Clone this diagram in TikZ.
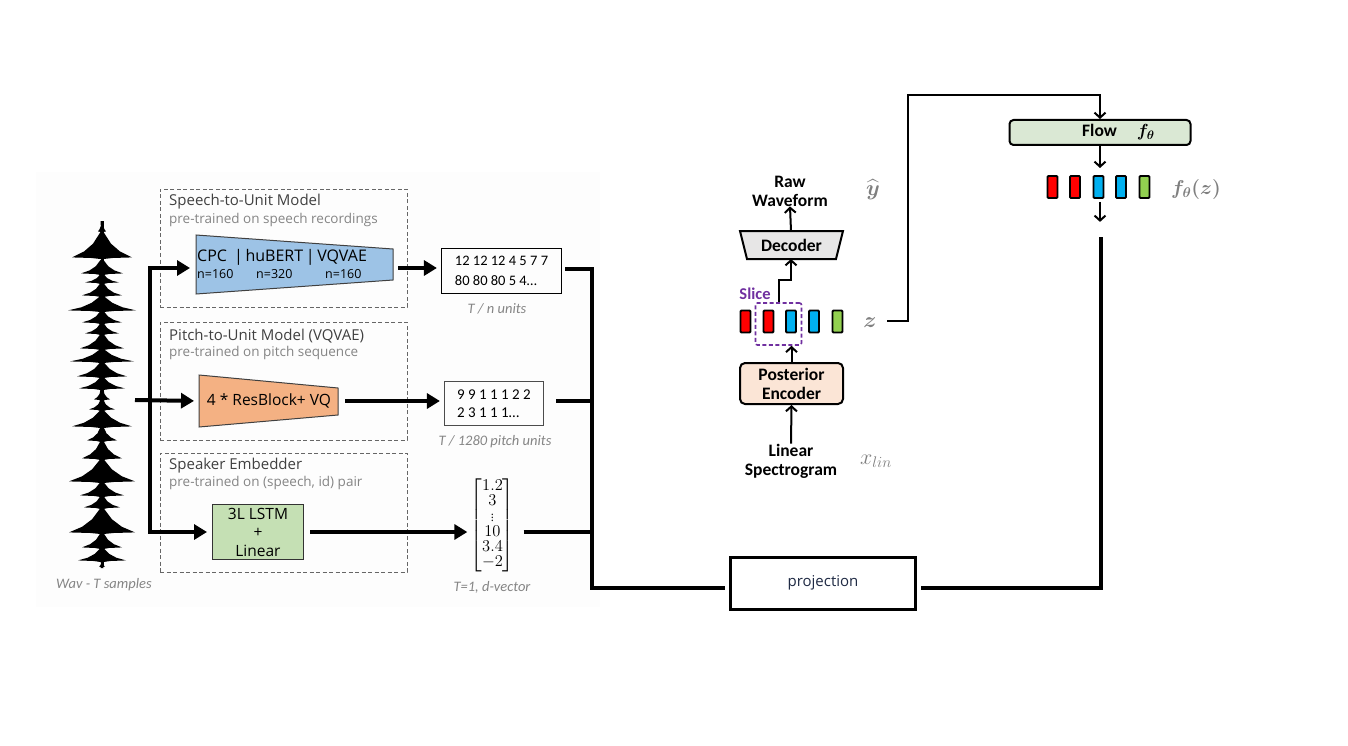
\RequirePackage{fix-cm}
\documentclass[tikz,border=0pt]{standalone}
\usepackage{amsmath}
\usepackage[no-math]{fontspec}
\setmainfont{Open Sans}
\newfontfamily\carl{Carlito}
\usetikzlibrary{arrows.meta}
\definecolor{titleG}{HTML}{404040}
\definecolor{subG}{HTML}{858585}
\definecolor{mathG}{HTML}{7F7F7F}
\definecolor{blueF}{HTML}{9DC3E6}
\definecolor{orangeF}{HTML}{F4B183}
\definecolor{greenF}{HTML}{C5E0B4}
\definecolor{flowF}{HTML}{DAE8D4}
\definecolor{peachF}{HTML}{FBE5D6}
\definecolor{decF}{HTML}{E7E6E6}
\definecolor{barR}{HTML}{FF0000}
\definecolor{barB}{HTML}{00B0F0}
\definecolor{barG}{HTML}{92D050}
\definecolor{purp}{HTML}{7030A0}
\definecolor{projT}{HTML}{1F2A44}
\definecolor{bgL}{HTML}{FDFDFD}
\begin{document}
\begin{tikzpicture}[x=1pt,y=-1pt,
  group/.style={draw=black!60, dash pattern=on 4pt off 2.5pt, line width=0.9pt, minimum width=247pt, inner sep=0pt},
  ttl/.style={anchor=west, inner sep=0pt, text=titleG, font=\fontsize{15}{17}\selectfont},
  subt/.style={anchor=west, inner sep=0pt, text=subG, font=\fontsize{13.5}{15}\selectfont},
  capt/.style={inner sep=0pt, text=subG, font=\carl\itshape\fontsize{14.5}{16}\selectfont},
  bus/.style={line width=4pt},
  bigarrow/.style={line width=4pt, -{Triangle[length=13pt,width=15pt]}},
  sarrow/.style={line width=2pt, -{Straight Barb[length=5pt,width=11pt]}},
  bar/.style={draw=black, line width=1.8pt, minimum width=10pt, minimum height=22pt, inner sep=0pt, rounded corners=1pt},
  blbl/.style={inner sep=0pt, align=center, font=\carl\bfseries\fontsize{17.5}{19}\selectfont},
  mlbl/.style={inner sep=0pt, text=mathG, font=\fontsize{22}{24}\selectfont},
]
\useasboundingbox (0,0) rectangle (1348,746);
\fill[white] (0,0) rectangle (1348,746);
% left picture background
\fill[bgL] (36,172) rectangle (600,607);
% waveform
\begin{scope}[shift={(102,0)}]
\fill[black] (-1.5,221) rectangle (1.5,567);
\foreach \a/\b/\w in {221/232/4, 232/258/30, 260/274/21, 274/283/17, 283/296/20, 296/311/34, 311/323/20, 323/334/17, 334/349/22, 349/362/32, 362/377/25, 377/389/23, 389/400/8, 400/410/13, 410/427/30, 427/441/15, 441/459/20, 459/482/33, 482/496/22, 496/508/18, 508/533/33, 533/548/20, 548/561/24, 561/567/3}{
  \fill[black] (-1.5,\a) -- ({-0.3*\w},{\a+0.45*(\b-\a)}) -- ({-0.6*\w},{\b-0.25*(\b-\a)}) -- ({-\w},{\b-0.6}) -- ({-0.35*\w},{\b}) -- (-1.5,{\b+1})
    -- (1.5,{\b+1}) -- ({0.35*\w},{\b}) -- ({\w},{\b-0.6}) -- ({0.6*\w},{\b-0.25*(\b-\a)}) -- ({0.3*\w},{\a+0.45*(\b-\a)}) -- (1.5,\a) -- cycle;
}
\end{scope}
\node[capt] (wl) at (104,585) {Wav - T samples};
% groups
\node[group, minimum height=118pt] (g1) at (283.5,248) {};
\node[group, minimum height=118pt] (g2) at (283.5,381) {};
\node[group, minimum height=119pt] (g3) at (283.5,512.5) {};
\node[ttl] (t1) at (169,202) {Speech-to-Unit Model};
\node[subt] (s1) at (169,220) {pre-trained on speech recordings};
\node[ttl] (t2) at (169,336) {Pitch-to-Unit Model (VQVAE)};
\node[subt] (s2) at (169,353) {pre-trained on pitch sequence};
\node[ttl] (t3) at (169,466) {Speaker Embedder};
\node[subt] (s3) at (169,483) {pre-trained on (speech, id) pair};
% encoders
\filldraw[fill=blueF, draw=black!75, line width=1pt] (196,235) -- (393,249) -- (393,280) -- (196,294) -- cycle;
\coordinate (e1w) at (196,268);
\coordinate (e1e) at (393,268);
\node[anchor=west, inner sep=0pt, font=\fontsize{16}{18}\selectfont] (e1t) at (197,257) {CPC\hspace{7pt}|\,huBERT\,|\,VQVAE};
\node[anchor=west, inner sep=0pt, font=\fontsize{12.5}{14}\selectfont] (n1) at (197,274) {n=160};
\node[anchor=west, inner sep=0pt, font=\fontsize{12.5}{14}\selectfont] (n2) at (256,274) {n=320};
\node[anchor=west, inner sep=0pt, font=\fontsize{12.5}{14}\selectfont] (n3) at (325,274) {n=160};
\filldraw[fill=orangeF, draw=black!75, line width=1pt] (199,375) -- (338,388) -- (338,415) -- (199,427) -- cycle;
\coordinate (e2w) at (199,401);
\coordinate (e2e) at (338,401);
\node[inner sep=0pt, font=\fontsize{15.5}{17}\selectfont] (e2t) at (269,401) {4 * ResBlock+ VQ};
\node[draw=black!80, fill=greenF, line width=1pt, minimum width=91pt, minimum height=55pt, inner sep=0pt, align=center, font=\fontsize{15.5}{18.5}\selectfont] (lstm) at (258,532) {3L LSTM\\+\\Linear};
% input arrows
\coordinate (wav) at (135,400);
\coordinate (jn) at (150,400);
\draw[bigarrow, shorten >=5pt] (wav) -- (e2w);
\draw[bigarrow, shorten >=6pt] (jn) |- (e1w);
\draw[bigarrow, shorten >=5pt] (jn) |- (lstm.west);
% unit outputs
\node[draw, line width=1.2pt, minimum width=120pt, minimum height=45pt, inner sep=0pt, align=left, font=\carl\fontsize{14.5}{20}\selectfont] (u1) at (501.5,271) {12 12 12 4 5 7 7\\80 80 80 5 4…};
\node[capt] (c1) at (497,309) {T / n units};
\node[draw=black!70, line width=1.2pt, minimum width=99pt, minimum height=44pt, inner sep=0pt, align=left, font=\carl\fontsize{15}{18}\selectfont] (u2) at (494,403.5) {9 9 1 1 1 2 2\\2 3 1 1 1…};
\node[capt] (c2) at (495,442) {T / 1280 pitch units};
\node[inner sep=0pt, font=\fontsize{16.5}{16}\selectfont] (vec) at (492.5,525.5) {$\renewcommand{\arraystretch}{0.95}\left[\begin{array}{@{}c@{}}1.2\\ 3\\ \scalebox{0.7}{$\vdots$}\\ 10\\ 3.4\\ -2\end{array}\right]$};
\node[capt] (c3) at (492,587) {T=1, d-vector};
\draw[bigarrow, shorten <=5pt, shorten >=4pt] (e1e) -- (u1.west |- e1e);
\draw[bigarrow, shorten <=7pt, shorten >=4pt] (e2e) -- (u2.west |- e2e);
\draw[bigarrow, shorten <=6pt, shorten >=3pt] (lstm.east) -- (lstm.east -| vec.west);
% bus
\coordinate (bt) at (592,269);
\coordinate (bb) at (592,588);
\node[draw, line width=3pt, minimum width=185pt, minimum height=52pt, inner sep=0pt, text=projT, font=\fontsize{15}{17}\selectfont] (proj) at (823,583) {projection};
\draw[bus] ([xshift=3pt]u1.east |- bt) -- (bt) -- (bb) -- ([xshift=-4pt]proj.west |- bb);
\draw[bus] ([xshift=12pt]u2.east |- e2e) -- (e2e -| bt);
\draw[bus] ([xshift=9pt]vec.east |- lstm.east) -- (lstm.east -| bt);
\coordinate (ft) at (1101,237);
\draw[bus] ([xshift=4pt]proj.east |- bb) -| (ft);
% right part: posterior path
\node[blbl] (raw) at (790,191) {Raw\\Waveform};
\node[mlbl] (yhat) at (873,190) {$\widehat{\boldsymbol{y}}$};
\filldraw[fill=decF, draw=black, line width=2pt] (740,231) -- (843,231) -- (836,259) -- (747,259) -- cycle;
\node[blbl] (dec) at (791.5,245) {Decoder};
\coordinate (decN) at (791,231);
\coordinate (decS) at (791,259);
\node[inner sep=0pt, text=purp, font=\carl\bfseries\fontsize{16.5}{18}\selectfont] (slicet) at (755,294) {Slice};
\node[bar, fill=barR] (z1) at (745.5,321.5) {};
\node[bar, fill=barR] (z2) at (768.5,321.5) {};
\node[bar, fill=barB] (z3) at (791,321.5) {};
\node[bar, fill=barB] (z4) at (814,321.5) {};
\node[bar, fill=barG] (z5) at (837.5,321.5) {};
\node[draw=purp, line width=1.6pt, dash pattern=on 4pt off 2.5pt, rounded corners=2pt, minimum width=46pt, minimum height=42pt, inner sep=0pt] (slice) at (778.5,324) {};
\node[mlbl] (zl) at (870,323) {$\boldsymbol{z}$};
\node[draw, line width=2pt, fill=peachF, rounded corners=5pt, minimum width=103pt, minimum height=41pt, blbl] (pe) at (791.5,383.5) {Posterior\\Encoder};
\node[blbl] (lin) at (791,461) {Linear\\Spectrogram};
\node[mlbl] (xl) at (876,461) {$x_{lin}$};
\draw[sarrow] (lin.north) -- (pe.south);
\draw[sarrow] (pe.north) -- (slice.south -| pe.north);
\draw[sarrow] (slice.north) -- ++(0,-22) -| (decS);
\draw[sarrow] (decN) -- (raw.south);
% flow
\node[draw, line width=2pt, fill=flowF, rounded corners=4pt, minimum width=181pt, minimum height=25pt, inner sep=0pt] (flow) at (1100,132.5) {};
\node[inner sep=0pt, anchor=west, font=\carl\bfseries\fontsize{17.5}{19}\selectfont] (flowt) at (1082,132) {Flow\hspace{20pt}$\boldsymbol{f_\theta}$};
\coordinate (zs) at (887,321);
\coordinate (topc) at (908,95);
\draw[sarrow] (zs) -| (topc) -| (flow.north);
\node[bar, fill=barR] (f1) at (1052.5,187) {};
\node[bar, fill=barR] (f2) at (1075,187) {};
\node[bar, fill=barB] (f3) at (1098.5,187) {};
\node[bar, fill=barB] (f4) at (1121,187) {};
\node[bar, fill=barG] (f5) at (1144.5,187) {};
\node[mlbl, font=\fontsize{20}{22}\selectfont] (fzl) at (1196,189) {$\boldsymbol{f_\theta(z)}$};
\draw[sarrow] (flow.south) -- ++(0,22);
\draw[sarrow] ([yshift=-3pt]flow.south |- f3.south) -- ++(0,20);
\end{tikzpicture}
\end{document}
